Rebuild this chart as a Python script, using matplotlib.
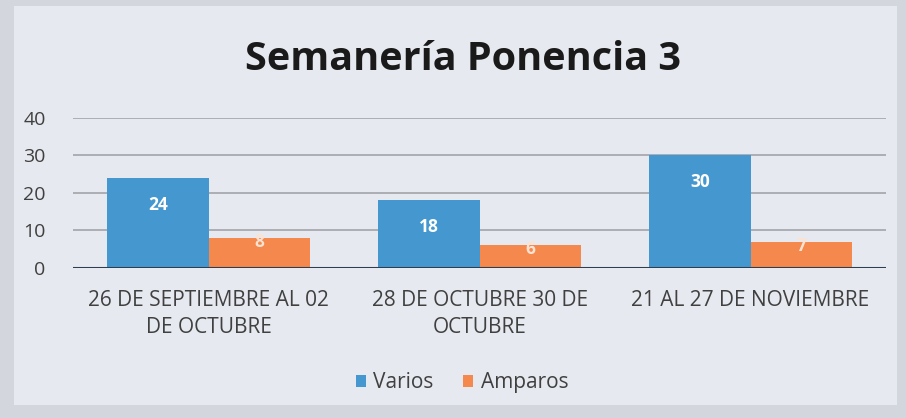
import matplotlib.pyplot as plt
import numpy as np
from matplotlib.patches import Rectangle

# -----------------------------
# DATA
# -----------------------------
categories = [
    "26 DE SEPTIEMBRE AL 02\nDE OCTUBRE",
    "28 DE OCTUBRE 30 DE\nOCTUBRE",
    "21 AL 27 DE NOVIEMBRE",
]
varios = [24, 18, 30]
amparos = [8, 6, 7]
series_names = ["Varios", "Amparos"]

BLUE = "#4598cf"
ORANGE = "#f5884d"
TEXT = "#404040"

plt.rcParams["font.family"] = ["Open Sans", "DejaVu Sans"]

fig = plt.figure(figsize=(9.06, 4.18), dpi=100)
fig.patch.set_facecolor("#d3d6dc")
# inner chart panel
fig.add_artist(Rectangle((0.015, 0.03), 0.975, 0.955, transform=fig.transFigure,
                         facecolor="#e6e9ef", edgecolor="none", zorder=-1))

ax = fig.add_axes([0.081, 0.359, 0.897, 0.359])
ax.set_facecolor("none")

x = np.arange(len(categories))
w = 0.375
b1 = ax.bar(x - w / 2, varios, w, color=BLUE, zorder=3, label=series_names[0])
b2 = ax.bar(x + w / 2, amparos, w, color=ORANGE, zorder=3, label=series_names[1])

for xi, v in zip(x - w / 2, varios):
    ax.annotate(str(v), (xi, v), xytext=(0, -27), textcoords="offset pixels",
                ha="center", va="center", color="white", fontsize=12.5,
                fontweight="bold", zorder=4)
for xi, v in zip(x + w / 2, amparos):
    ax.annotate(str(v), (xi, v), xytext=(0, -4), textcoords="offset pixels",
                ha="center", va="center", color="#fbe3d3", fontsize=12.5,
                fontweight="bold", zorder=4)

ax.set_xlim(-0.5, 2.5)
ax.set_ylim(0, 40)
ax.set_yticks([0, 10, 20, 30, 40])
ax.yaxis.grid(True, color="#9c9ea3", linewidth=1.1, zorder=0)
ax.axhline(0, color="#2e3e4e", linewidth=2.2, zorder=5)

ax.set_xticks(x)
ax.set_xticklabels(categories, fontsize=15, color=TEXT, linespacing=1.35)
ax.tick_params(axis="y", labelsize=14, labelcolor=TEXT, length=0, pad=20)
ax.tick_params(axis="x", length=0, pad=16)
for s in ax.spines.values():
    s.set_visible(False)

fig.text(0.511, 0.857, "Semanería Ponencia 3", ha="center", va="center",
         fontsize=28.5, fontweight="bold", color="#1a1a1a")

fig.legend(handles=[b1, b2], labels=series_names, loc="center",
           bbox_to_anchor=(0.51, 0.085), ncol=2, frameon=False,
           fontsize=15, labelcolor=TEXT, handlelength=0.5, handleheight=0.5,
           handletextpad=0.35, columnspacing=1.4)

fig.savefig("out.png", dpi=100, facecolor=fig.get_facecolor())
